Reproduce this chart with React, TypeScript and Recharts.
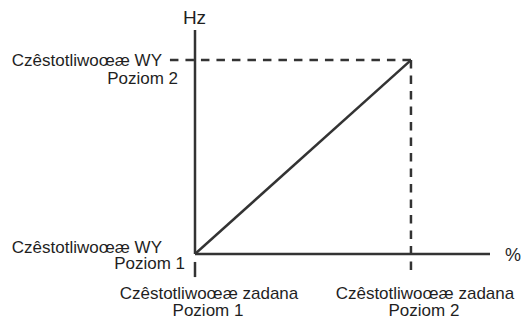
import { LineChart, Line, XAxis, YAxis, ReferenceLine } from "recharts";

// setpoint (%) vs output frequency (Hz), level 1 -> level 2
const setpoint = [0, 100];
const outputHz = [0, 100];
const xTicks = [0, 100];
const yTicks = [0, 100];
const xTickLabels = [
  ["Czêstotliwoœæ zadana", "Poziom 1"],
  ["Czêstotliwoœæ zadana", "Poziom 2"],
];
const yTickLabels = [
  ["Czêstotliwoœæ WY", "Poziom 1"],
  ["Czêstotliwoœæ WY", "Poziom 2"],
];
const X_MAX = 136.6;
const Y_MAX = 115.5;
const GUIDE_X_START = -11.6;
const GUIDE_Y_END = -11.9;
const ORIGIN_TICK = [-4.1, -11.9];

const data = setpoint.map((sp, i) => ({ sp, hz: outputHz[i] }));

const INK = "#333333";
const TEXT = "#1f1f1f";
const FONT = "'Liberation Sans', Arial, sans-serif";

function XTick(props: any) {
  const { x, y, payload } = props;
  const idx = xTicks.indexOf(payload.value);
  const lines = xTickLabels[idx] || [];
  return (
    <g>
      <text x={x + 14} y={y + 37} textAnchor="middle" fill={TEXT} fontSize={17} fontFamily={FONT}>
        {lines[0]}
      </text>
      <text x={x + 13} y={y + 54} textAnchor="middle" fill={TEXT} fontSize={17} fontFamily={FONT}>
        {lines[1]}
      </text>
    </g>
  );
}

function YTick(props: any) {
  const { x, y, payload } = props;
  const idx = yTicks.indexOf(payload.value);
  const lines = yTickLabels[idx] || [];
  const top = idx === 1;
  return (
    <g>
      <text x={x - 25} y={top ? y + 6 : y - 1} textAnchor="end" fill={TEXT} fontSize={17} fontFamily={FONT}>
        {lines[0]}
      </text>
      <text x={top ? x - 9 : x - 2} y={top ? y + 24 : y + 15} textAnchor="end" fill={TEXT} fontSize={17} fontFamily={FONT}>
        {lines[1]}
      </text>
    </g>
  );
}

export default function App() {
  return (
    <div style={{ position: "absolute", left: 0, top: 0, background: "#fff" }}>
      <LineChart
        width={521}
        height={320}
        data={data}
        margin={{ top: 30, right: 31, bottom: 65, left: 194 }}
      >
        <XAxis
          dataKey="sp"
          type="number"
          domain={[0, X_MAX]}
          ticks={xTicks}
          allowDataOverflow
          height={1}
          tickLine={false}
          axisLine={{ stroke: INK, strokeWidth: 2.5 }}
          tick={<XTick />}
          label={{ value: "%", position: "right", offset: 15, fill: TEXT, fontSize: 18, fontFamily: FONT }}
        />
        <YAxis
          type="number"
          domain={[0, Y_MAX]}
          ticks={yTicks}
          allowDataOverflow
          width={1}
          tickLine={false}
          axisLine={{ stroke: INK, strokeWidth: 2.5 }}
          tick={<YTick />}
          label={{ value: "Hz", position: "top", offset: 6, fill: TEXT, fontSize: 19, fontFamily: FONT }}
        />
        <ReferenceLine
          segment={[{ x: GUIDE_X_START, y: outputHz[1] }, { x: setpoint[1], y: outputHz[1] }]}
          stroke={INK}
          strokeWidth={2.5}
          strokeDasharray="8.5 7"
          ifOverflow="visible"
        />
        <ReferenceLine
          segment={[{ x: setpoint[1], y: outputHz[1] }, { x: setpoint[1], y: GUIDE_Y_END }]}
          stroke={INK}
          strokeWidth={2.5}
          strokeDasharray="8.5 7"
          ifOverflow="visible"
        />
        <ReferenceLine
          segment={[{ x: setpoint[0], y: ORIGIN_TICK[0] }, { x: setpoint[0], y: ORIGIN_TICK[1] }]}
          stroke={INK}
          strokeWidth={2.5}
          ifOverflow="visible"
        />
        <Line
          dataKey="hz"
          stroke={INK}
          strokeWidth={2.5}
          dot={false}
          isAnimationActive={false}
        />
      </LineChart>
    </div>
  );
}
